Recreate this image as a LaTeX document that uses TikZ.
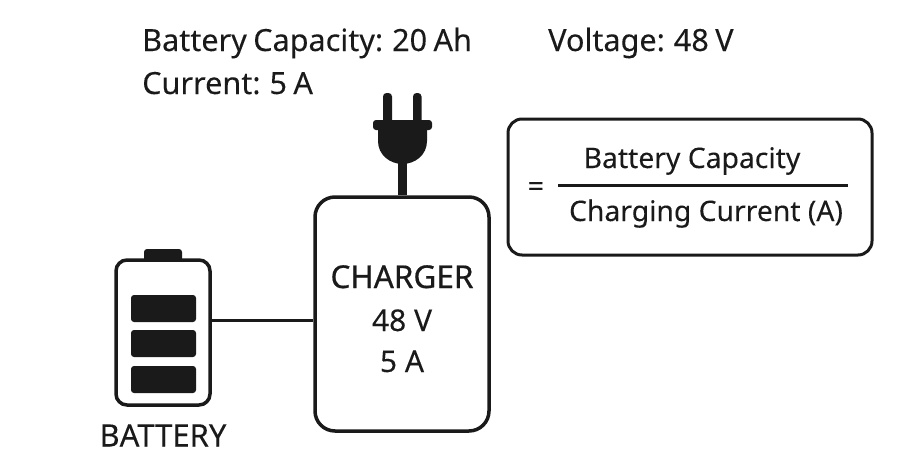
\documentclass[tikz,border=0pt]{standalone}
\usepackage{fontspec}
\setmainfont{Noto Sans}[FakeBold=0.08]
\newfontfamily\headfont{Noto Sans}[FakeBold=0.6]
\newfontfamily\topfont{Noto Sans}[FakeBold=0.08,WordSpace=0.8]
\definecolor{ink}{HTML}{1A1A1A}
\tikzset{
  txt/.style={inner sep=0pt,text=ink,font=\topfont\fontsize{30.6}{32}\selectfont},
  small/.style={inner sep=0pt,text=ink,font=\fontsize{28.3}{30}\selectfont},
  heavy/.style={draw=ink,line width=3.5pt},
  cell/.style={fill=ink,rounded corners=3pt}
}
\begin{document}
\begin{tikzpicture}[x=1pt,y=-1pt]
\useasboundingbox (0,0) rectangle (913,450);
% top texts
\node[txt,anchor=base west] (cap) at (142,51) {Battery Capacity: 20 Ah};
\node[txt,anchor=base west] (volt) at (548,51) {Voltage: 48 V};
\node[txt,anchor=base west] (cur) at (142,94) {Current: 5 A};
% plug
\fill[ink,rounded corners=3.5pt] (383,93) rectangle (392,125);
\fill[ink,rounded corners=3.5pt] (413,93) rectangle (421.5,125);
\fill[ink,rounded corners=3pt] (373,120) rectangle (432,130);
\fill[ink] (378,128) -- (427,128) -- (427,141) .. controls (427,155) and (415,164) .. (402.5,164) .. controls (390,164) and (378,155) .. (378,141) -- cycle;
% charger
\node[heavy,rounded corners=20pt,minimum width=174pt,minimum height=234pt,inner sep=0pt] (charger) at (402,314) {};
\coordinate (plugbase) at (402.5,160);
\draw[ink,line width=9pt] (plugbase) -- (plugbase |- charger.north);
\node[inner sep=0pt,text=ink,font=\headfont\fontsize{31.5}{32}\selectfont,anchor=base] (chg) at (402,288) {CHARGER};
\node[inner sep=0pt,text=ink,font=\fontsize{30}{32}\selectfont,anchor=base] (v48) at (402,331) {48 V};
\node[inner sep=0pt,text=ink,font=\fontsize{30}{32}\selectfont,anchor=base] (a5) at (402,372) {5 A};
% battery
\fill[ink,rounded corners=3pt] (144,249) rectangle (182,264);
\node[heavy,fill=white,rounded corners=11pt,minimum width=94pt,minimum height=145pt,inner sep=0pt] (batt) at (163,332.5) {};
\fill[cell] (131,295) rectangle (196,322);
\fill[cell] (131,330) rectangle (196,357);
\fill[cell] (131,366) rectangle (196,393);
\node[inner sep=0pt,text=ink,font=\fontsize{31}{32}\selectfont,anchor=base] (battlabel) at (163,446.5) {BATTERY};
\coordinate (jc) at (charger.west |- 0,320);
\coordinate (jb) at (batt.east |- 0,320);
\draw[ink,line width=3pt] (jb) -- (jc);
% formula
\node[heavy,line width=3pt,rounded corners=14pt,minimum width=364pt,minimum height=136pt,inner sep=0pt] (formula) at (690,187) {};
\node[small,anchor=base] (num) at (692,168) {Battery Capacity};
\node[small,anchor=base] (den) at (706,221) {Charging Current (A)};
\node[small,anchor=base] (eq) at (536,196) {=};
\coordinate (fa) at (558,185);
\coordinate (fb) at (848,185);
\draw[ink,line width=3pt] (fa) -- (fb);
\end{tikzpicture}
\end{document}
